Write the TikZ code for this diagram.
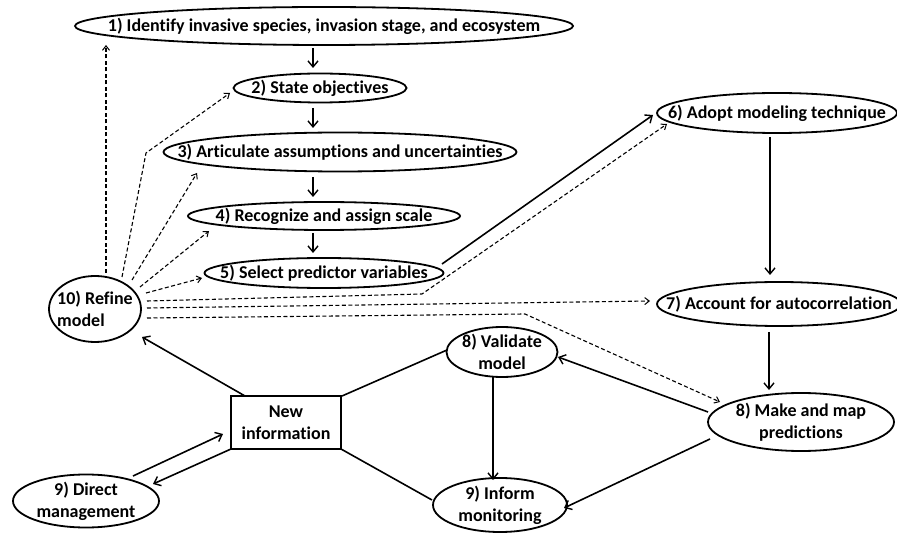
\documentclass[tikz,border=0pt]{standalone}
\usepackage{fontspec}
\setmainfont{Carlito}[Ligatures={NoCommon}]
\usetikzlibrary{shapes.geometric,arrows.meta,calc}
\begin{document}
\begin{tikzpicture}[x=1pt,y=-1pt,
  font=\fontsize{18}{22}\selectfont\bfseries,
  ell/.style={ellipse,draw,line width=1.8pt,inner sep=0pt},
  arr/.style={line width=1.6pt,-{Straight Barb[length=6pt,width=10pt,line width=1.4pt]}},
  dsh/.style={line width=1.1pt,dash pattern=on 4pt off 2.5pt,-{Straight Barb[length=4.5pt,width=7pt,line width=1pt]}},
  ln/.style={line width=1.6pt}]
\clip (0,0) rectangle (897,537);
\fill[white] (0,0) rectangle (897,537);
% nodes
\node[ell,minimum width=498pt,minimum height=38pt,label=center:{1) Identify invasive species, invasion stage, and ecosystem}] (n1) at (324,26) {};
\node[ell,minimum width=173pt,minimum height=29pt,label=center:{2) State objectives}] (n2) at (320,88) {};
\node[ell,minimum width=353pt,minimum height=39pt,label=center:{3) Articulate assumptions and uncertainties}] (n3) at (340,152) {};
\node[ell,minimum width=272pt,minimum height=28pt,label=center:{4) Recognize and assign scale}] (n4) at (324,216) {};
\node[ell,minimum width=239pt,minimum height=30pt,label=center:{5) Select predictor variables}] (n5) at (324,273) {};
\node[ell,minimum width=240pt,minimum height=40pt,label=center:{6) Adopt modeling technique}] (n6) at (777,113) {};
\node[ell,minimum width=244pt,minimum height=44pt,label=center:{7) Account for autocorrelation}] (n7) at (779,304) {};
\node[ell,minimum width=111pt,minimum height=50pt,label={[align=center]center:8) Validate\\model}] (n8v) at (502,352) {};
\node[ell,minimum width=186pt,minimum height=58pt,label={[align=center]center:8) Make and map\\predictions}] (n8m) at (801,422) {};
\node[ell,minimum width=134pt,minimum height=54pt,label={[align=center]center:9) Inform\\monitoring}] (n9i) at (500,505) {};
\node[ell,minimum width=146pt,minimum height=53pt,label={[align=center]center:9) Direct\\management}] (n9d) at (86,501) {};
\node[ell,minimum width=92pt,minimum height=66pt,label={[align=left]center:10) Refine\\model}] (n10) at (95,309) {};
\node[draw,line width=1.8pt,minimum width=110pt,minimum height=53pt,align=center,inner sep=0pt] (nb) at (286,422.5) {New\\information};
% main chain
\draw[arr] ($(n1)+(-11,22)$) -- ($(n2)+(-7,-20)$);
\draw[arr] ($(n2)+(-7,20)$) -- ($(n3)+(-27,-24)$);
\draw[arr] ($(n3)+(-27,25)$) -- ($(n4)+(-11,-19)$);
\draw[arr] ($(n4)+(-11,17)$) -- ($(n5)+(-11,-20)$);
\draw[arr] ($(n5)+(118,-9)$) -- ($(n6)+(-124,2)$);
\draw[arr] ($(n6)+(-7,24)$) -- ($(n7)+(-9,-29)$);
\draw[arr] ($(n7)+(-10,28)$) -- ($(n8m)+(-32,-32)$);
\draw[arr] ($(n8m)+(-93,-10)$) -- ($(n8v)+(56,5)$);
\draw[arr] ($(n8m)+(-91,17)$) -- ($(n9i)+(64,3)$);
\draw[arr] ($(n8v)+(-9,25)$) -- ($(n9i)+(-7,-25)$);
\draw[ln] ($(n8v)+(-55,-2)$) -- ($(nb)+(56,-26.5)$);
\draw[ln] ($(nb)+(55,26.5)$) -- ($(n9i)+(-68,-5)$);
\draw[arr] ($(nb)+(-41,-26.5)$) -- ($(n10)+(47,28)$);
\draw[arr] ($(n9d)+(47,-25)$) -- ($(nb)+(-63,11.5)$);
\draw[arr] ($(nb)+(-55,26.5)$) -- ($(n9d)+(67,-17)$);
% dashed feedback from refine
\draw[dsh] ($(n10)+(11,-36)$) -- ($(n1)+(-218,19)$);
\draw[dsh] ($(n10)+(27,-32)$) -- ($(n10)+(51,-156)$) -- ($(n2)+(-90,5)$);
\draw[dsh] ($(n10)+(37,-29)$) -- ($(n3)+(-143,21)$);
\draw[dsh] ($(n10)+(45,-22)$) -- ($(n4)+(-115,15)$);
\draw[dsh] ($(n10)+(51,-16)$) -- ($(n5)+(-122,5)$);
\draw[dsh] ($(n10)+(52,-8)$) -- ($(n5)+(98,21)$) -- ($(n6)+(-110,11)$);
\draw[dsh] ($(n10)+(52,-1)$) -- ($(n7)+(-129,-3)$);
\draw[dsh] ($(n10)+(52,9)$) -- ($(n8v)+(23,-38)$) -- ($(n8m)+(-81,-20)$);
\end{tikzpicture}
\end{document}
